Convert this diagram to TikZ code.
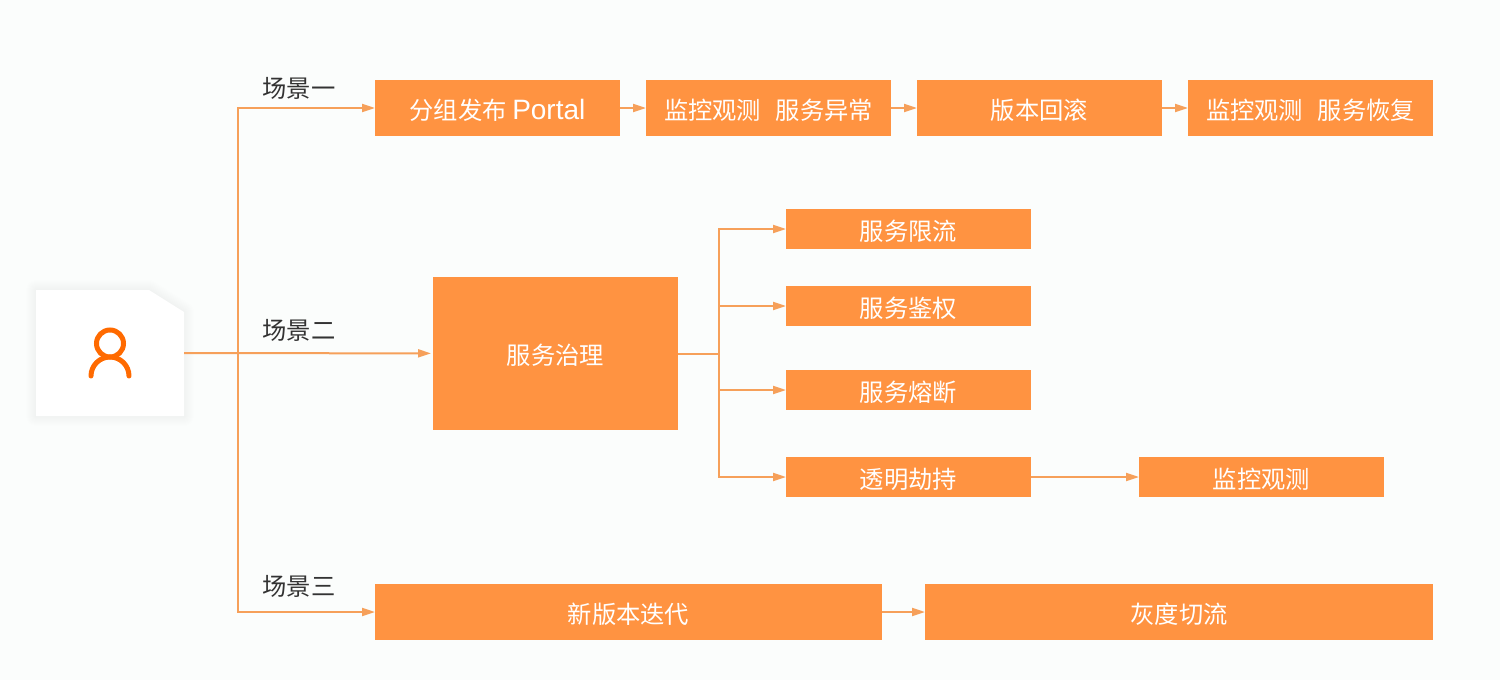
\documentclass[tikz,border=0pt]{standalone}
\usepackage{fontspec}
\setmainfont{Noto Sans CJK SC}
\newfontfamily\latinfont{Liberation Sans}
\usepackage{xcolor}
\usetikzlibrary{arrows.meta, positioning, calc}
\definecolor{pagebg}{RGB}{251,253,252}
\definecolor{boxfill}{RGB}{255,147,65}
\definecolor{flowline}{RGB}{246,160,90}
\definecolor{iconorange}{RGB}{255,106,0}
\definecolor{labelgray}{RGB}{51,51,51}
\tikzset{
  box/.style      = {rectangle, fill=boxfill, text=white, inner sep=0pt, outer sep=0pt,
                     minimum width=#1, minimum height=28pt, text height=12.2pt, text depth=1.2pt,
                     font=\fontsize{12.15}{14}\selectfont},
  box/.default    = 122.5pt,
  subbox/.style   = {box, minimum height=20pt},
  flow/.style     = {-{Triangle[length=6.5pt, width=4pt]}, line width=1pt, color=flowline},
  scene/.style    = {font=\fontsize{12.15}{14}\selectfont, text=labelgray, inner sep=0pt},
  usercard/.style = {rectangle, minimum width=74pt, minimum height=63pt, inner sep=0pt, outer sep=0pt},
}
\begin{document}
\begin{tikzpicture}[x=0.5pt, y=-0.5pt]
  \fill[pagebg] (0,0) rectangle (1500,680);
  \useasboundingbox (0,0) rectangle (1500,680);

  \node[usercard] (user) at (110,353) {};
  \foreach \s in {2,4,...,20}
    \draw[black, opacity=0.004, line width=\s*0.5pt, line join=round]
      (36,290) -- (149,290) -- (184,312) -- (184,416) -- (36,416) -- cycle;
  \fill[white] (36,290) -- (149,290) -- (184,312) -- (184,416) -- (36,416) -- cycle;
  \draw[iconorange, line width=2.5pt] (110,343.5) circle[radius=13.5];
  \draw[iconorange, line width=2.5pt, line cap=round] (91,376) arc[start angle=180, end angle=360, radius=19];

  \node[box, anchor=west] (portal) at (375,108) {分组发布 {\latinfont\fontsize{14}{14}\selectfont Portal}};
  \node[box, right=13pt of portal] (watchbad) {监控观测\hspace{0.6em}服务异常};
  \node[box, right=13pt of watchbad] (rollback) {版本回滚};
  \node[box, right=13pt of rollback] (watchgood) {监控观测\hspace{0.6em}服务恢复};

  \node[box, minimum height=76.5pt, anchor=west] (govern) at (433,353.5) {服务治理};
  \node[subbox, anchor=west] (limit) at (786,229) {服务限流};
  \node[subbox, anchor=west] (auth) at (786,306) {服务鉴权};
  \node[subbox, anchor=west] (breaker) at (786,390) {服务熔断};
  \node[subbox, anchor=west] (hijack) at (786,477) {透明劫持};
  \node[subbox, right=54pt of hijack] (watch) {监控观测};

  \node[box=253.5pt, anchor=west] (release) at (375,612) {新版本迭代};
  \node[box=254pt, right=21.5pt of release] (shift) {灰度切流};

  \node[scene] (sceneone) at (299,88.5) {场景一};
  \node[scene] (scenetwo) at (299,330.5) {场景二};
  \node[scene] (scenethree) at (299,586.5) {场景三};

  \coordinate (trunk) at (238,353);
  \coordinate (fork) at (719,353.5);

  \draw[flow, shorten >=1pt] (user) -- (govern);
  \draw[flow] (trunk) |- (portal);
  \draw[flow] (trunk) |- (release);
  \draw[flow] (portal) -- (watchbad);
  \draw[flow] (watchbad) -- (rollback);
  \draw[flow] (rollback) -- (watchgood);
  \draw[flow, -] (govern) -- (fork);
  \draw[flow] (fork) |- (limit);
  \draw[flow] (fork) |- (auth);
  \draw[flow] (fork) |- (breaker);
  \draw[flow] (fork) |- (hijack);
  \draw[flow] (hijack) -- (watch);
  \draw[flow] (release) -- (shift);
\end{tikzpicture}
\end{document}
